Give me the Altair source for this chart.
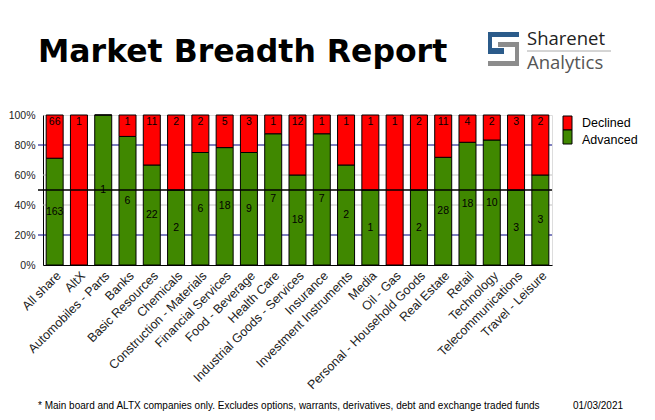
import altair as alt
import pandas as pd

categories = ["All share", "AltX", "Automobiles - Parts", "Banks", "Basic Resources",
              "Chemicals", "Construction - Materials", "Financial Services",
              "Food - Beverage", "Health Care", "Industrial Goods - Services",
              "Insurance", "Investment Instruments", "Media", "Oil - Gas",
              "Personal - Household Goods", "Real Estate", "Retail", "Technology",
              "Telecommunications", "Travel - Leisure"]
advanced = [163, 0, 1, 6, 22, 2, 6, 18, 9, 7, 18, 7, 2, 1, 0, 2, 28, 18, 10, 3, 3]
declined = [66, 1, 0, 1, 11, 2, 2, 5, 3, 1, 12, 1, 1, 1, 1, 2, 11, 4, 2, 3, 2]
minor_grid = [0.4, 0.6]
navy_grid = [0.2, 0.8]
half_line = [0.5]
y_ticks = [0, 0.2, 0.4, 0.6, 0.8, 1.0]

GREEN = "#408800"
RED = "#FF0000"
FONT = "Liberation Sans"

rows = []
for c, a, d in zip(categories, advanced, declined):
    f = a / (a + d)
    rows.append({"cat": c, "status": "Advanced", "y0": 0.0, "y1": f, "n": a,
                 "ly": f / 2, "lab": str(a) if a > 0 else ""})
    rows.append({"cat": c, "status": "Declined", "y0": f, "y1": 1.0, "n": d,
                 "ly": 1.0, "lab": str(d) if d > 0 else ""})
df = pd.DataFrame(rows)

W, H = 509, 150
xs = alt.X("cat:N", sort=categories, title=None,
           scale=alt.Scale(paddingInner=0.3, paddingOuter=0.13),
           axis=alt.Axis(labelAngle=-45, labelFontSize=12.5, labelFont=FONT,
                         labelColor="#222", ticks=False, domainColor="black",
                         labelPadding=4, labelLimit=300))
yscale = alt.Scale(domain=[0, 1])
yaxis = alt.Axis(values=y_ticks, format=".0%", grid=False, ticks=False,
                 labelFontSize=10.5, labelFont=FONT, labelColor="#222",
                 domainColor="black", labelPadding=8, labelOverlap=False,
                 labelFlush=False, title=None)

def Y(field):
    return alt.Y(field, scale=yscale, axis=yaxis, title=None)

minor = alt.Chart(pd.DataFrame({"v": minor_grid})).mark_rule(
    color="#c0c0c0", strokeWidth=1).encode(
    y=Y("v:Q"), x=alt.value(0), x2=alt.value(W))
major = alt.Chart(pd.DataFrame({"v": navy_grid})).mark_rule(
    color="#000080", strokeWidth=1).encode(
    y=Y("v:Q"), x=alt.value(-5), x2=alt.value(W))
half = alt.Chart(pd.DataFrame({"v": half_line})).mark_rule(
    color="black", strokeWidth=1.3).encode(
    y=Y("v:Q"), x=alt.value(-5), x2=alt.value(W))

bars = alt.Chart(df).mark_bar(stroke="black", strokeWidth=1).encode(
    x=xs,
    y=Y("y0:Q"),
    y2="y1:Q",
    color=alt.Color("status:N", scale=alt.Scale(domain=["Declined", "Advanced"],
                                                range=[RED, GREEN]), legend=None),
)

adv_lab = alt.Chart(df).transform_filter("datum.status == 'Advanced'").mark_text(
    font=FONT, fontSize=10.5, color="black", baseline="middle").encode(
    x=alt.X("cat:N", sort=categories), y=Y("ly:Q"), text="lab:N")
dec_lab = alt.Chart(df).transform_filter("datum.status == 'Declined'").mark_text(
    font=FONT, fontSize=10.5, color="black", baseline="top", dy=2).encode(
    x=alt.X("cat:N", sort=categories), y=Y("ly:Q"), text="lab:N")

one = pd.DataFrame({"k": [0]})

def txt(s, x, y, size, color="black", weight="normal", font=FONT, align="left"):
    return alt.Chart(one).mark_text(text=s, fontSize=size, color=color, fontWeight=weight,
                                    font=font, align=align, baseline="alphabetic").encode(
        x=alt.value(x), y=alt.value(y))

def box(x, x2, y, y2, color, stroke=None):
    kw = {"color": color}
    if stroke:
        kw.update(stroke=stroke, strokeWidth=1)
    return alt.Chart(one).mark_rect(**kw).encode(
        x=alt.value(x), x2=alt.value(x2), y=alt.value(y), y2=alt.value(y2))

BLUE = "#2B5B8A"
GREY = "#8C8C8C"
deco = [
    txt("Market Breadth Report", -5, -53, 31.5, weight="bold", font="DejaVu Sans"),
    box(445, 476, -83, -78, BLUE), box(445, 449, -83, -61, BLUE), box(445, 461, -67, -61, BLUE),
    box(455, 476, -73, -68, GREY), box(472, 476, -73, -49, GREY), box(445, 476, -54, -49, GREY),
    txt("Sharenet", 484, -70, 18.5, color="#222", font="Open Sans"),
    alt.Chart(one).mark_rule(color="#aaaaaa").encode(
        x=alt.value(484), x2=alt.value(568), y=alt.value(-64)),
    txt("Analytics", 484, -46, 18.5, color="#555", font="Open Sans"),
    box(520, 529, 1, 15, RED, "black"), box(520, 529, 15, 29, GREEN, "black"),
    txt("Declined", 539, 12, 12.5), txt("Advanced", 539, 29, 12.5),
    txt("* Main board and ALTX companies only. Excludes options, warrants, derivatives, debt and exchange traded funds",
        -5, 294, 10),
    txt("01/03/2021", 530, 294, 10),
]

chart = alt.layer(minor, major, bars, half, adv_lab, dec_lab, *deco).properties(
    width=W, height=H,
    autosize=alt.AutoSizeParams(type="none"),
    padding={"left": 35, "top": 107, "right": 95, "bottom": 147},
).configure_view(stroke="black", strokeWidth=1).configure(background="white")

chart.save("out.html", embed_options={"renderer": "svg", "actions": False})
